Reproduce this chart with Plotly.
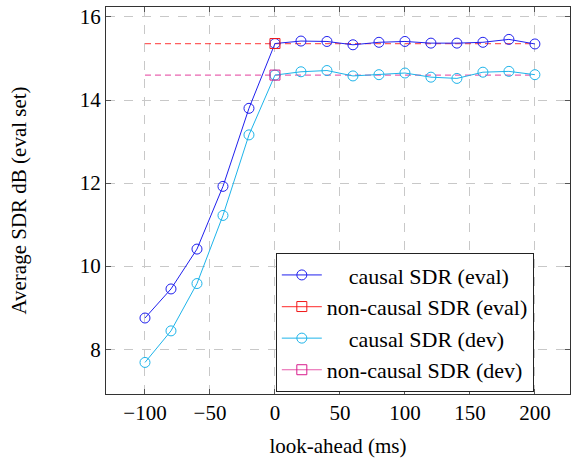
import plotly.graph_objects as go

lookahead = [-100, -80, -60, -40, -20, 0, 20, 40, 60, 80, 100, 120, 140, 160, 180, 200]
causal_eval = [8.75, 9.45, 10.41, 11.92, 13.80, 15.36, 15.42, 15.41, 15.33, 15.39, 15.41, 15.37, 15.37, 15.39, 15.46, 15.35]
causal_dev = [7.68, 8.44, 9.58, 11.22, 13.16, 14.60, 14.68, 14.71, 14.58, 14.61, 14.65, 14.55, 14.52, 14.67, 14.69, 14.61]
noncausal_x = [-100, 0, 200]
noncausal_eval = 15.36
noncausal_dev = 14.60

NB = "\u00a0"
names = [
    NB * 4 + "causal SDR (eval)",
    "non-causal SDR (eval)",
    NB * 4 + "causal SDR (dev)",
    "non-causal SDR (dev)",
]

fig = go.Figure()

fig.add_trace(go.Scatter(
    x=noncausal_x, y=[noncausal_eval] * 3, mode="lines", showlegend=False,
    line=dict(color="rgba(255,40,40,0.75)", width=1.2, dash="6px,4px"), hoverinfo="skip"))
fig.add_trace(go.Scatter(
    x=noncausal_x, y=[noncausal_dev] * 3, mode="lines", showlegend=False,
    line=dict(color="rgba(225,50,150,0.75)", width=1.2, dash="6px,4px"), hoverinfo="skip"))

fig.add_trace(go.Scatter(
    x=lookahead, y=causal_eval, mode="lines+markers", name=names[0],
    line=dict(color="#2020EE", width=1),
    marker=dict(symbol="circle-open", size=10, color="#2020EE", line=dict(width=1))))
fig.add_trace(go.Scatter(
    x=[noncausal_x[1]], y=[noncausal_eval], mode="lines+markers", name=names[1],
    line=dict(color="rgba(255,40,40,0.8)", width=1.2),
    marker=dict(symbol="square-open", size=10, color="#F01818", line=dict(width=1))))
fig.add_trace(go.Scatter(
    x=lookahead, y=causal_dev, mode="lines+markers", name=names[2],
    line=dict(color="#1EB4EA", width=1),
    marker=dict(symbol="circle-open", size=10, color="#1EB4EA", line=dict(width=1))))
fig.add_trace(go.Scatter(
    x=[noncausal_x[1]], y=[noncausal_dev], mode="lines+markers", name=names[3],
    line=dict(color="rgba(225,50,150,0.8)", width=1.2),
    marker=dict(symbol="square-open", size=10, color="#D81B8C", line=dict(width=1))))

font = "Liberation Serif, serif"
axis_common = dict(
    showline=True, linecolor="#333", linewidth=1, mirror="ticks",
    ticks="inside", ticklen=5, tickcolor="#555",
    showgrid=True, gridcolor="#c8c8c8", griddash="dash", gridwidth=1,
    zeroline=False, automargin=False,
    tickfont=dict(size=21, family=font, color="black"),
)
fig.update_layout(
    width=573, height=459,
    margin=dict(l=106, r=3, t=7, b=65),
    plot_bgcolor="white", paper_bgcolor="white",
    font=dict(family=font, color="black"),
    xaxis=dict(range=[-130, 227], tickvals=[-100, -50, 0, 50, 100, 150, 200],
               ticktext=["\u2212100", "\u221250", "0", "50", "100", "150", "200"],
               title=dict(text="look-ahead (ms)", font=dict(size=21, family=font), standoff=14),
               **axis_common),
    yaxis=dict(range=[6.92, 16.24], tickvals=[8, 10, 12, 14, 16],
               title=dict(text="Average SDR dB (eval set)", font=dict(size=21, family=font), standoff=47),
               **axis_common),
    legend=dict(x=0.366, y=0.364, xanchor="left", yanchor="top",
                bgcolor="white", bordercolor="#222", borderwidth=1,
                font=dict(size=22, family=font), itemwidth=40, tracegroupgap=0),
)

fig.write_html("out.html", config={"displayModeBar": False},
               post_script="document.body.style.margin='0px';")
